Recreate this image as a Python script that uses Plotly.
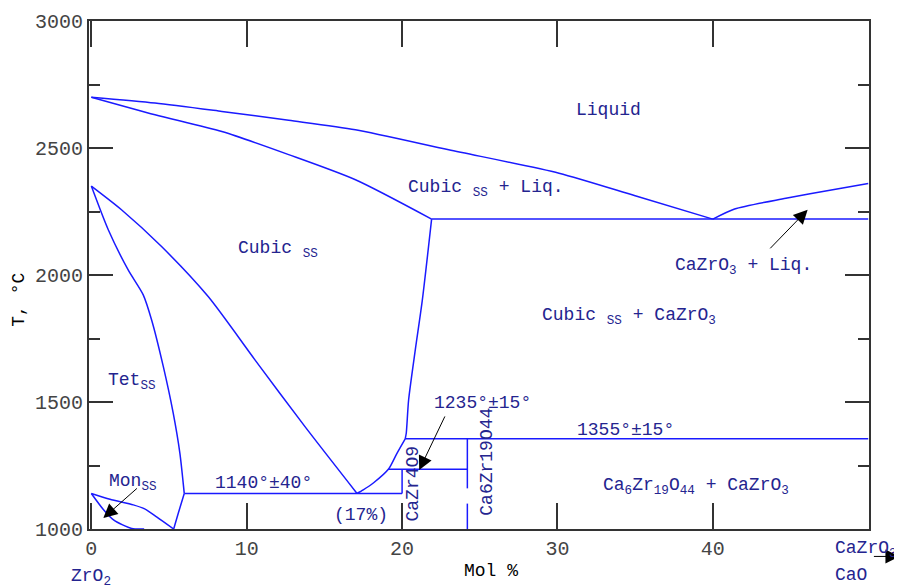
import plotly.graph_objects as go

LINE_COLOR = "#1a1aff"
TEXT_COLOR = "#24248f"
AXIS_COLOR = "#333333"
FONT = "Liberation Mono, Courier New, monospace"

# liquidus from ZrO2 down to the eutectic at 40 %
liq_left_x = [0, 4.1, 8.4, 12.7, 17.0, 23.0, 30.1, 35.0, 40.0]
liq_left_y = [2700, 2677, 2644, 2609, 2572, 2493, 2401, 2312, 2220]
# liquidus on the CaZrO3 side
liq_right_x = [40.0, 41.4, 44.7, 47.9, 50.0]
liq_right_y = [2220, 2260, 2302, 2338, 2360]
# cubic solidus
sol_x = [0, 4.1, 8.4, 12.7, 17.0, 21.9]
sol_y = [2700, 2631, 2565, 2474, 2375, 2220]
# cubic ss limit, upper part and lower part
cub_hi_x = [21.9, 21.3, 20.85, 20.42, 20.27, 20.2]
cub_hi_y = [2220, 1900, 1705, 1508, 1378, 1355]
cub_lo_x = [20.2, 19.67, 19.13, 18.17, 17.5, 17.1]
cub_lo_y = [1355, 1298, 1236, 1182, 1154, 1140]
# cubic ss limit towards tetragonal
tc_x = [0, 1.94, 4.52, 7.52, 10.53, 13.75, 17.1]
tc_y = [2350, 2257, 2112, 1915, 1666, 1403, 1140]
# tetragonal ss limit, above and below the eutectoid
tet_hi_x = [0, 1.09, 2.37, 3.34, 3.88, 4.63, 5.27, 5.7, 5.98]
tet_hi_y = [2350, 2178, 2020, 1922, 1823, 1640, 1456, 1298, 1140]
tet_lo_x = [5.98, 5.6, 5.3]
tet_lo_y = [1140, 1063, 1000]
# monoclinic ss region
mon_up_x = [0, 1.2, 2.7, 3.4, 4.2, 5.3]
mon_up_y = [1140, 1117, 1095, 1080, 1048, 1000]
mon_lo_x = [0, 0.8, 1.45, 2.6, 3.4]
mon_lo_y = [1140, 1075, 1035, 1002, 1000]
# invariant lines
iso_x = [21.9, 50, None, 5.98, 20, None, 19.13, 24.2, None, 20.2, 50]
iso_y = [2220, 2220, None, 1140, 1140, None, 1235, 1235, None, 1355, 1355]
# compound lines (CaZr4O9 at 20 %, Ca6Zr19O44 at 24.2 %)
comp_x = [20, 20, None, 20, 20, None, 24.2, 24.2, None, 24.2, 24.2]
comp_y = [1235, 1140, None, 1100, 1000, None, 1355, 1160, None, 1100, 1000]

fig = go.Figure()
curves = [
    (liq_left_x, liq_left_y),
    (liq_right_x, liq_right_y),
    (sol_x, sol_y),
    (cub_hi_x, cub_hi_y),
    (cub_lo_x, cub_lo_y),
    (tc_x, tc_y),
    (tet_hi_x, tet_hi_y),
    (tet_lo_x, tet_lo_y),
    (mon_up_x, mon_up_y),
    (mon_lo_x, mon_lo_y),
]
for xs, ys in curves:
    fig.add_trace(
        go.Scatter(
            x=xs, y=ys, mode="lines",
            line=dict(color=LINE_COLOR, width=1.5, shape="spline", smoothing=0.7),
            hoverinfo="skip", showlegend=False,
        )
    )
for xs, ys in [(iso_x, iso_y), (comp_x, comp_y)]:
    fig.add_trace(
        go.Scatter(
            x=xs, y=ys, mode="lines",
            line=dict(color=LINE_COLOR, width=1.5),
            hoverinfo="skip", showlegend=False,
        )
    )

labels = [
    ("Liquid", 33.3, 2651, 0),
    ("Cubic <sub>SS</sub> + Liq.", 25.4, 2340, 0),
    ("Cubic <sub>SS</sub>", 12.0, 2100, 0),
    ("CaZrO<sub>3</sub> + Liq.", 42.0, 2035, 0),
    ("Cubic <sub>SS</sub> + CaZrO<sub>3</sub>", 34.6, 1835, 0),
    ("Tet<sub>SS</sub>", 2.64, 1580, 0),
    ("Mon<sub>SS</sub>", 2.7, 1185, 0),
    ("1140°±40°", 11.07, 1181, 0),
    ("(17%)", 17.35, 1055, 0),
    ("1235°±15°", 25.2, 1498, 0),
    ("1355°±15°", 34.4, 1390, 0),
    ("Ca<sub>6</sub>Zr<sub>19</sub>O<sub>44</sub> + CaZrO<sub>3</sub>", 38.9, 1168, 0),
    ("CaZr4O9", 20.7, 1179, -90),
    ("Ca6Zr19O44", 25.45, 1264, -90),
]
for text, x, y, ang in labels:
    fig.add_annotation(
        x=x, y=y, text=text, showarrow=False, textangle=ang,
        font=dict(family=FONT, size=18, color=TEXT_COLOR),
    )

# pointer arrows: (head x, head y, tail x, tail y)
arrows = [
    (0.77, 1043, 3.03, 1165),
    (21.1, 1232, 22.8, 1449),
    (46.1, 2257, 43.6, 2099),
]
for hx, hy, tx, ty in arrows:
    fig.add_annotation(
        x=hx, y=hy, ax=tx, ay=ty, axref="x", ayref="y", text="",
        showarrow=True, arrowhead=2, arrowsize=2.8, arrowwidth=1,
        arrowcolor="black",
    )

fig.add_annotation(
    x=1.039, y=-0.054, xref="paper", yref="paper", ax=-27, ay=0, text="",
    showarrow=True, arrowhead=2, arrowsize=2.8, arrowwidth=1, arrowcolor="black",
)

outer = [
    ("ZrO<sub>2</sub>", 0.002, -0.095, "center", TEXT_COLOR),
    ("Mol %", 0.515, -0.083, "center", "black"),
    ("CaZrO<sub>3</sub>", 0.954, -0.041, "left", TEXT_COLOR),
    ("CaO", 0.954, -0.09, "left", TEXT_COLOR),
]
for text, x, y, anchor, col in outer:
    fig.add_annotation(
        x=x, y=y, xref="paper", yref="paper", text=text, showarrow=False,
        xanchor=anchor, yanchor="middle",
        font=dict(family=FONT, size=18, color=col),
    )
fig.add_annotation(
    x=-0.09, y=0.451, xref="paper", yref="paper", text="T, °C",
    showarrow=False, textangle=-90, xanchor="center", yanchor="middle",
    font=dict(family=FONT, size=18, color="black"),
)

axis_common = dict(
    showline=True, linecolor=AXIS_COLOR, linewidth=2, mirror="ticks",
    ticks="inside", tickcolor=AXIS_COLOR, tickwidth=2, showgrid=False,
    zeroline=False, automargin=False,
    tickfont=dict(family=FONT, size=20, color="#444444"),
)
# the page body adds an 8 px offset, so the margins are shifted back by it
fig.update_layout(
    width=902,
    height=588,
    margin=dict(l=81, r=41, t=13, b=67),
    plot_bgcolor="white",
    paper_bgcolor="white",
    xaxis=dict(
        range=[-0.15, 50.05], tickvals=[0, 10, 20, 30, 40], ticklen=26,
        **axis_common,
    ),
    yaxis=dict(
        range=[1000, 3000], dtick=500, tick0=1000, ticklen=24,
        minor=dict(dtick=250, ticks="inside", ticklen=11,
                   tickcolor=AXIS_COLOR, tickwidth=2),
        **axis_common,
    ),
)

fig.write_html("out.html")
